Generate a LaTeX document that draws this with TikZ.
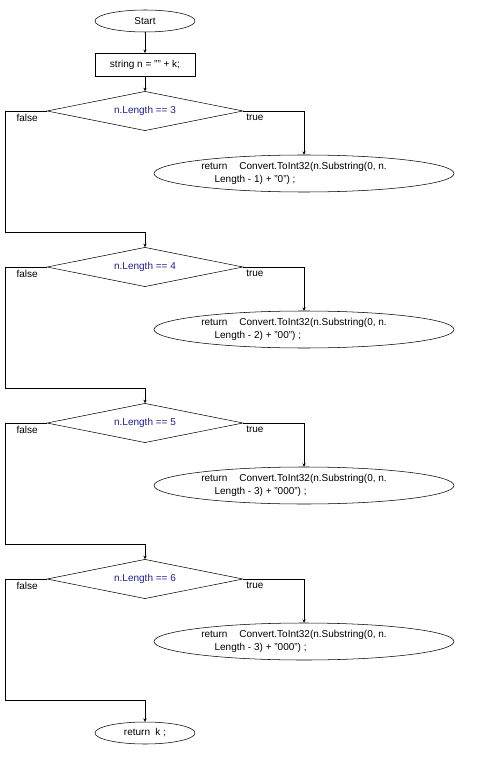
\documentclass[tikz,border=0pt]{standalone}
\usepackage{fontspec}
\setmainfont{Liberation Sans}
\usetikzlibrary{shapes.geometric, arrows.meta, positioning}
\definecolor{condblue}{RGB}{30,30,150}

\begin{document}
\begin{tikzpicture}[
    x=0.75pt, y=-0.75pt,
    term/.style={ellipse, draw, thin, minimum width=75pt, minimum height=16.5pt, inner sep=0pt, font=\fontsize{7.5}{9.5}\selectfont},
    proc/.style={rectangle, draw, thin, minimum width=75pt, minimum height=17pt, inner sep=0pt, font=\fontsize{7.5}{9.5}\selectfont},
    cond/.style={diamond, aspect=5, draw, thin, minimum width=147pt, minimum height=29.5pt, inner sep=0pt, font=\fontsize{7.5}{9.5}\selectfont, text=condblue},
    ret/.style={ellipse, draw, thin, minimum width=225pt, minimum height=27.75pt, inner sep=0pt, align=left, font=\fontsize{7.5}{9.75}\selectfont},
    lbl/.style={inner sep=0pt, font=\fontsize{7.5}{9.5}\selectfont},
    arr/.style={-{Stealth[length=2.5pt, width=2.5pt]}, thin},
]
\useasboundingbox (0,0) rectangle (489,773);

\node[term] (start) at (145,21)  {Start};
\node[proc] (init)  at (145,64.5) {string n = "" + k;};

\node[cond] (c3) at (145,111) {n.Length == 3};
\node[ret]  (r3) at (304,173.5) {return\hspace{9pt}Convert.ToInt32(n.Substring(0, n.\hspace*{15pt}\\\hspace*{10pt}Length - 1) + "0") ;};
\node[cond] (c4) at (145,267) {n.Length == 4};
\node[ret]  (r4) at (304,329.5) {return\hspace{9pt}Convert.ToInt32(n.Substring(0, n.\hspace*{15pt}\\\hspace*{10pt}Length - 2) + "00") ;};
\node[cond] (c5) at (145,423) {n.Length == 5};
\node[ret]  (r5) at (304,485.5) {return\hspace{9pt}Convert.ToInt32(n.Substring(0, n.\hspace*{15pt}\\\hspace*{10pt}Length - 3) + "000") ;};
\node[cond] (c6) at (145,579) {n.Length == 6};
\node[ret]  (r6) at (304,641.5) {return\hspace{9pt}Convert.ToInt32(n.Substring(0, n.\hspace*{15pt}\\\hspace*{10pt}Length - 3) + "000") ;};

\node[term] (stop) at (145,733) {return\hspace{4pt}k ;};

% corners of the false branches
\coordinate (f3) at (5,232);
\coordinate (f4) at (5,388);
\coordinate (f5) at (5,544);
\coordinate (f6) at (5,700);

% branch labels
\node[lbl, anchor=north east] (l3f) at (38,114) {false};
\node[lbl, anchor=north west] (l3t) at (246,114) {true};
\node[lbl, anchor=north east] (l4f) at (38,270) {false};
\node[lbl, anchor=north west] (l4t) at (246,270) {true};
\node[lbl, anchor=north east] (l5f) at (38,426) {false};
\node[lbl, anchor=north west] (l5t) at (246,426) {true};
\node[lbl, anchor=north east] (l6f) at (38,582) {false};
\node[lbl, anchor=north west] (l6t) at (246,582) {true};

\draw[arr] (start) -- (init);
\draw[arr] (init) -- (c3);
\draw[arr] (c3.east) -| (r3.north);
\draw[arr] (c3.west) -| (f3) -| (c4.north);
\draw[arr] (c4.east) -| (r4.north);
\draw[arr] (c4.west) -| (f4) -| (c5.north);
\draw[arr] (c5.east) -| (r5.north);
\draw[arr] (c5.west) -| (f5) -| (c6.north);
\draw[arr] (c6.east) -| (r6.north);
\draw[arr] (c6.west) -| (f6) -| (stop.north);
\end{tikzpicture}
\end{document}
